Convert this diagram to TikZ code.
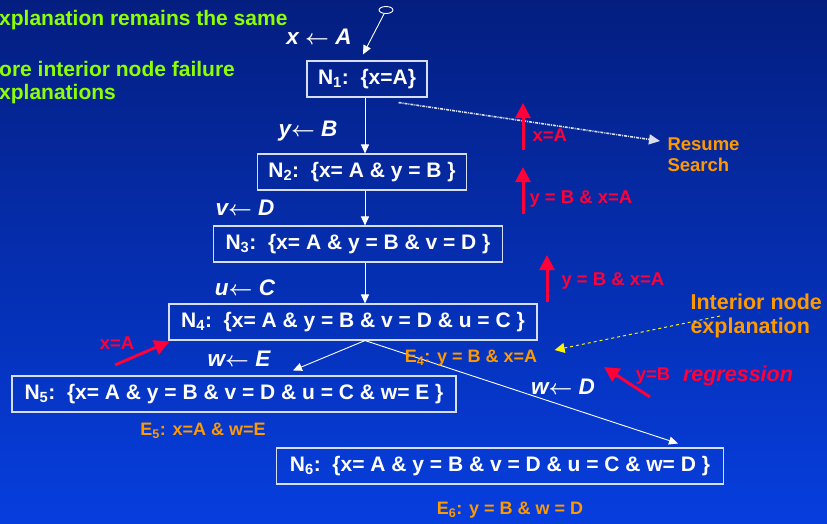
\documentclass[tikz,border=0pt]{standalone}
\usepackage{fontspec}
\setmainfont{Liberation Sans}
\usetikzlibrary{arrows.meta,positioning}

\definecolor{slidetop}{RGB}{4,30,128}
\definecolor{slidebot}{RGB}{6,62,222}
\definecolor{boxline}{RGB}{215,222,240}
\definecolor{explorange}{RGB}{255,153,0}
\definecolor{regred}{RGB}{255,0,56}
\definecolor{notegreen}{RGB}{140,255,0}

\newcommand{\getsto}{{\boldmath$\leftarrow$}}

\tikzset{
  state/.style={draw=boxline, line width=1.1pt, text=white, minimum height=36pt,
    inner xsep=3pt, font=\fontsize{21}{24}\selectfont\bfseries},
  assign/.style={text=white, font=\fontsize{22.5}{26}\selectfont\bfseries\itshape},
  expl/.style={text=explorange, font=\fontsize{18}{21}\selectfont\bfseries},
  backlabel/.style={text=regred, font=\fontsize{18.5}{22}\selectfont\bfseries},
  note/.style={text=notegreen, anchor=base west, inner sep=0pt, font=\fontsize{21}{24}\selectfont\bfseries},
  tree/.style={draw=white, line width=0.9pt, -{Triangle[length=9pt,width=8pt]}},
  backarrow/.style={draw=regred, line width=3pt, -{Triangle[length=15pt,width=15pt]}},
}

\begin{document}
\begin{tikzpicture}[x=1pt,y=-1pt]
			\useasboundingbox (0,0) rectangle (827,523);
			\shade[top color=slidetop,bottom color=slidebot] (0,0) rectangle (827,523);
			
			% Notes on the left
			\node[note] (note1) at (-1,25) {xplanation remains the same};
			\node[note] (note2) at (-1,76) {ore interior node failure};
			\node[note] (note3) at (-1,99) {xplanations};
			
			% Search tree
			\node[state, minimum width=120pt] (n1) at (367,79) {N\textsubscript{1}:\ \ \{x=A\}};
			\node[state, minimum width=209pt] (n2) at (362,172) {N\textsubscript{2}:\ \ \{x= A \& y = B \}};
			\node[state, minimum width=289pt] (n3) at (358,244) {N\textsubscript{3}:\ \ \{x= A \& y = B \& v = D \}};
			\node[state, minimum width=368pt] (n4) at (353,322) {N\textsubscript{4}:\ \ \{x= A \& y = B \& v = D \& u = C \}};
			\node[state, minimum width=444pt] (n5) at (234,394) {N\textsubscript{5}:\ \ \{x= A \& y = B \& v = D \& u = C \& w= E \}};
			\node[state, minimum width=447pt] (n6) at (500,466) {N\textsubscript{6}:\ \ \{x= A \& y = B \& v = D \& u = C \& w= D \}};
			\coordinate (spine) at (365,0);
			
			% Root
			\coordinate (root) at (386,10);
			\draw[white, line width=0.9pt] (root) ellipse (7pt and 3.5pt);
			\draw[tree] ([shift={(-2,4)}]root) -- ([shift={(-2,-6)}]n1.north -| spine);
			
			% Branches
			\draw[tree] (n1.south -| spine) -- (n2.north -| spine);
			\draw[tree] (n2.south -| spine) -- (n3.north -| spine);
			\draw[tree] (n3.south -| spine) -- (n4.north -| spine);
			\draw[tree] (n4.south -| spine) -- ([shift={(59,-5)}]n5.north);
			\draw[tree] (n4.south -| spine) -- ([shift={(178,-4)}]n6.north);
			
			% Assignments
			\node[assign] (xa) at (319,37) {x \getsto{} A};
			\node[assign] (yb) at (308,131) {y\getsto{} B};
			\node[assign] (vd) at (245,208) {v\getsto{} D};
			\node[assign] (uc) at (245,288) {u\getsto{} C};
			\node[assign] (we) at (239,359) {w\getsto{} E};
			\node[assign] (wd) at (563,387) {w\getsto{} D};
			
			% Explanations
			\node[expl] (e4) at (471,358) {E\textsubscript{4}: y = B \& x=A};
			\node[expl] (e5) at (203,431) {E\textsubscript{5}: x=A \& w=E};
			\node[expl] (e6) at (510,510) {E\textsubscript{6}: y = B \& w = D};
			\node[expl, anchor=west, align=left, font=\fontsize{18.5}{21}\selectfont\bfseries] (resume) at (664,155) {Resume\\Search};
			\node[expl, anchor=west, align=left, font=\fontsize{21.5}{24}\selectfont\bfseries] (interior) at (687,316) {Interior node\\explanation};
			
			% Resume and interior arrows
			\draw[boxline, line width=1.6pt, dash pattern=on 3pt off 1pt on 1pt off 1pt,
				-{Triangle[length=11pt,width=10pt]}] ([shift={(-29,5)}]n1.south east) -- ([shift={(-4,-14)}]resume.west);
			\draw[yellow, line width=1pt, dashed, -{Triangle[length=10pt,width=10pt]}]
				([xshift=33pt]interior.west) -- ([shift={(14,-8)}]e4.east);
			
			% Regression of explanations
			\foreach \ax/\ytop/\ybot/\lx/\ly/\txt in {523/103/150/529/135/x=A, 523/167/214/526/199/{y = B \& x=A}, 547/255/302/558/281/{y = B \& x=A}} {
				\coordinate (up tail) at (\ax,\ybot);
				\coordinate (up head) at (\ax,\ytop);
				\draw[backarrow] (up tail) -- (up head);
				\node[backlabel, anchor=west] at (\lx,\ly) {\txt};
			}
			\coordinate (left tail) at (115,365);
			\draw[backarrow] (left tail) -- ([shift={(1,1)}]n4.south west);
			\node[backlabel] (lxa) at (117,343) {x=A};
			\coordinate (right tail) at (650,397);
			\draw[backarrow] (right tail) -- (604,367);
			\node[backlabel] (ryb) at (653,376) {y=B};
			\node[backlabel, font=\fontsize{21.5}{24}\selectfont\bfseries\itshape] (reg) at (738,376) {regression};
		\end{tikzpicture}
\end{document}
